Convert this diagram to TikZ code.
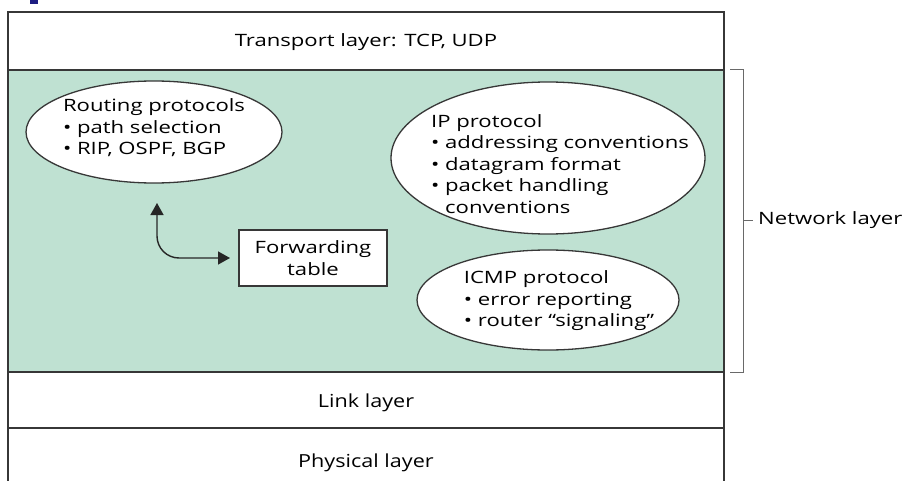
\documentclass[tikz,border=0pt]{standalone}
\usepackage{fontspec}
\setmainfont{Open Sans}[FakeStretch=1.3]
\newfontfamily\layerfont{Open Sans}[FakeStretch=1.2]
\usetikzlibrary{shapes.geometric,arrows.meta,calc}
\definecolor{netgreen}{RGB}{191,225,210}
\definecolor{lineg}{RGB}{55,55,55}
\definecolor{slideblue}{RGB}{30,30,130}
\tikzset{
  ell/.style={ellipse,draw=lineg,line width=1.3pt,fill=white,inner sep=0pt},
  etext/.style={align=left,inner sep=0pt,font=\fontsize{17}{21.5}\selectfont},
  lbl/.style={font=\fontsize{17}{21.5}\selectfont},
  layerlbl/.style={font=\layerfont\fontsize{18}{21.5}\selectfont},
  fbox/.style={rectangle,draw=lineg,line width=1.3pt,fill=white,align=center,inner sep=0pt,
    font=\fontsize{17}{21.5}\selectfont},
  arr/.style={line width=1.4pt,draw=black!85,{Triangle[length=12pt,width=13pt]}-{Triangle[length=12pt,width=13pt]}},
  frame/.style={lineg,line width=1.5pt},
}
\newcommand{\bul}{\textbullet\ }
\newcommand{\bulind}{\phantom{\textbullet\ }}
\begin{document}
\begin{tikzpicture}[x=1pt,y=-1pt]
\useasboundingbox (0,0) rectangle (904,481);
\fill[white] (0,0) rectangle (904,481);
% slide artifact
\fill[slideblue] (30,0) rectangle (38,4);
% network layer band
\fill[netgreen] (8,70) rectangle (724,372);
% layer frame
\draw[frame] (8,490) -- (8,12) -- (724,12) -- (724,490);
\draw[frame] (8,70) -- (724,70);
\draw[frame] (8,372) -- (724,372);
\draw[frame] (8,428) -- (724,428);
% layer labels
\node[lbl] (transport) at (366,42) {Transport layer: TCP, UDP};
\node[layerlbl] (link) at (366,403) {Link layer};
\node[layerlbl] (phys) at (366,463) {Physical layer};
% ellipses
\node[ell,minimum width=256pt,minimum height=102pt] (routing) at (154,132) {};
\node[etext] (routingtext) at ($(routing)+(0,-4)$)
  {Routing protocols\\\bul path selection\\\bul RIP, OSPF, BGP};
\node[ell,minimum width=314pt,minimum height=152pt] (ip) at (548,158) {};
\node[etext] (iptext) at ($(ip)+(12,6)$)
  {IP protocol\\\bul addressing conventions\\\bul datagram format\\\bul packet handling\\\bulind conventions};
\node[ell,minimum width=262pt,minimum height=100pt] (icmp) at (548,300) {};
\node[etext] (icmptext) at ($(icmp)+(11,1)$)
  {ICMP protocol\\\bul error reporting\\\bul router ``signaling''};
% forwarding table
\node[fbox,minimum width=148pt,minimum height=56pt] (fwd) at (313,258) {Forwarding\\table};
% arrow
\coordinate (atop) at (157,203);
\coordinate (aend) at (230,258);
\draw[arr] (atop) -- (157,236) to[out=-90,in=180] (179,258) -- (aend);
% bracket
\draw[lineg!75,line width=1pt] (730,70) -- (743,70) -- (743,372) -- (730,372);
\coordinate (tick) at (753,220);
\draw[lineg!75,line width=1pt] (743,220) -- (tick);
\node[lbl,anchor=west,inner sep=0pt] (net) at (758,220) {Network layer};
\end{tikzpicture}
\end{document}
